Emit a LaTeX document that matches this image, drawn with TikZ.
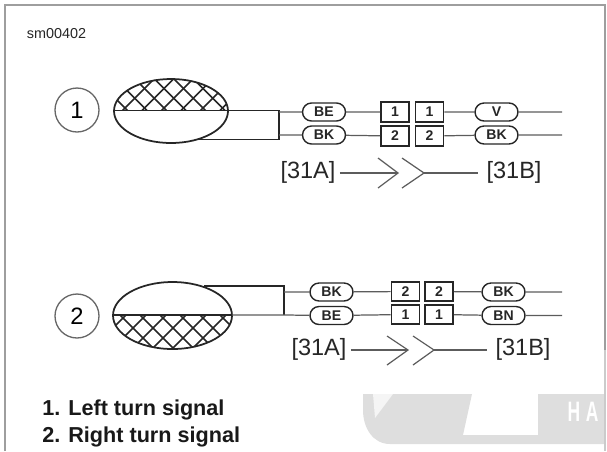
\documentclass[tikz,border=0pt]{standalone}
\usepackage{fontspec}
\setmainfont{Liberation Sans}
\usetikzlibrary{calc}
\usetikzlibrary{shapes.misc}
\definecolor{inkgray}{gray}{0.15}
\definecolor{wiregray}{gray}{0.36}
\definecolor{framegray}{gray}{0.62}
\definecolor{markgray}{gray}{0.87}
\tikzset{%
    lamp/.style={draw=inkgray,line width=1pt},
    hatchline/.style={draw=inkgray,line width=0.85pt},
    callout/.style={circle,draw=inkgray!70,line width=0.75pt,minimum size=0.88cm,inner sep=0pt,font=\fontsize{13.5}{14}\selectfont},
    wirepill/.style={rounded rectangle,draw=inkgray,line width=0.8pt,fill=white,minimum width=0.86cm,minimum height=0.36cm,inner sep=0pt,font=\fontsize{8}{9}\selectfont\bfseries,text=inkgray},
    pinbox/.style={rectangle,draw=inkgray,line width=0.9pt,fill=white,minimum width=0.56cm,minimum height=0.39cm,inner sep=0pt,font=\fontsize{8}{9}\selectfont\bfseries,text=inkgray},
    wire/.style={draw=wiregray,line width=0.7pt},
    harness/.style={draw=inkgray,line width=0.9pt},
    connref/.style={inner sep=0pt,font=\fontsize{13.4}{14}\selectfont,text=inkgray},
    chevron/.style={draw=wiregray,line width=0.7pt},
    legend/.style={anchor=west,inner sep=0pt,font=\fontsize{12.3}{14}\selectfont\bfseries,text=black!90},
}
\begin{document}
\begin{tikzpicture}[x=0.02cm,y=-0.02cm]
        \useasboundingbox (0,0) rectangle (607,451);

        % watermark and frame
        \fill[markgray] (363,394) -- (472,394) -- (463,435) -- (538,435) -- (538,394) -- (605,394) -- (605,444) -- (390,444) .. controls (373,444) and (363,428) .. (363,410) -- cycle;
        \fill[white!70!markgray] (373,394) -- (393,394) -- (375,418) -- cycle;
        \node (wmark) at (583,412) {\color{white}\fontsize{16}{16}\selectfont\bfseries\scalebox{0.62}[1]{H\,\,A}};
        \draw[framegray,line width=1.2pt] (5,451) -- (5,5) -- (605,5) -- (605,350);
        \draw[markgray!80!gray,line width=1.2pt] (605,350) -- (605,451);

        \node (tag) at (56.5,34) {\fontsize{8.2}{9}\selectfont\color{inkgray}sm00402};

        % upper lamp
        \node [callout] (num1) at (77,110) {1};
        \coordinate (lamp1w) at (114,110.5);
        \coordinate (lamp1e) at (228,110.5);
        \begin{scope}
            \clip (lamp1w) arc (180:360:57 and 32) -- cycle;
            \foreach \i in {-2,...,7} {
                \draw[hatchline] (65+19.5*\i,168) -- ++(120,-120);
                \draw[hatchline] (65+19.5*\i,48) -- ++(120,120);
            }
        \end{scope}
        \draw[lamp] (171,111) ellipse [x radius=57,y radius=32];
        \coordinate (split1a) at (279,110.5);
        \coordinate (split1b) at (279,139.5);
        \coordinate (back1) at (197,139.5);
        \draw[harness] (lamp1w) -- (split1a) -- (split1b) -- (back1);

        \node [wirepill] (p1a) at (324,112) {BE};
        \node [wirepill] (p1b) at (324,135) {BK};
        \node [pinbox] (b1a) at (395,112) {1};
        \node [pinbox] (b1b) at (395,136) {2};
        \node [pinbox] (c1a) at (429.5,112) {1};
        \node [pinbox] (c1b) at (429.5,136) {2};
        \node [wirepill] (q1a) at (496.5,112) {V};
        \node [wirepill] (q1b) at (496.5,135) {BK};
        \coordinate (end1a) at (562,112);
        \coordinate (end1b) at (562,135);
        \coordinate (tap1a) at (279,112);
        \coordinate (tap1b) at (279,135);
        \draw[wire] (tap1a) -- (p1a) -- (b1a);
        \draw[wire] (tap1b) -- (p1b) -- (b1b);
        \draw[wire] (c1a) -- (q1a) -- (end1a);
        \draw[wire] (c1b) -- (q1b) -- (end1b);

        \node [connref] (ref1a) at (308,172) {[31A]};
        \node [connref] (ref1b) at (514,172) {[31B]};
        \coordinate (tip1a) at (398,173);
        \coordinate (tip1b) at (424,173);
        \draw[chevron] ($(ref1a.east)+(4,1)$) -- (tip1a);
        \draw[chevron] (378,158) -- (tip1a) -- (378,188);
        \draw[chevron] (402,158) -- (tip1b) -- (402,188);
        \draw[chevron] (tip1b) -- ($(ref1b.west)+(-8,1)$);

        % lower lamp
        \node [callout] (num2) at (77,316) {2};
        \coordinate (lamp2w) at (113,315);
        \coordinate (lamp2e) at (232,315);
        \begin{scope}
            \clip (lamp2w) arc (180:0:59.5 and 33.5) -- cycle;
            \foreach \i in {-2,...,7} {
                \draw[hatchline] (63+20*\i,378) -- ++(120,-120);
                \draw[hatchline] (63+20*\i,258) -- ++(120,120);
            }
        \end{scope}
        \draw[lamp] (172.5,315.5) ellipse [x radius=59.5,y radius=33.5];
        \coordinate (split2a) at (284,286);
        \coordinate (split2b) at (284,315);
        \coordinate (back2) at (204,286);
        \draw[lamp] (lamp2w) -- (lamp2e);
        \draw[harness] (back2) -- (split2a) -- (split2b);

        \node [wirepill] (p2a) at (331.5,292) {BK};
        \node [wirepill] (p2b) at (331.5,315.5) {BE};
        \node [pinbox] (b2a) at (405.5,291.5) {2};
        \node [pinbox] (b2b) at (405.5,314.5) {1};
        \node [pinbox] (c2a) at (439,291.5) {2};
        \node [pinbox] (c2b) at (439,314.5) {1};
        \node [wirepill] (q2a) at (503.5,292) {BK};
        \node [wirepill] (q2b) at (503.5,315.5) {BN};
        \coordinate (end2a) at (562,292);
        \coordinate (end2b) at (562,315.5);
        \coordinate (tap2a) at (284,292);
        \draw[wire] (tap2a) -- (p2a) -- (b2a);
        \draw[wire] (lamp2e) -- (split2b) -- (p2b) -- (b2b);
        \draw[wire] (c2a) -- (q2a) -- (end2a);
        \draw[wire] (c2b) -- (q2b) -- (end2b);

        \node [connref] (ref2a) at (319,349) {[31A]};
        \node [connref] (ref2b) at (523,349) {[31B]};
        \coordinate (tip2a) at (408,350);
        \coordinate (tip2b) at (434,350);
        \draw[chevron] ($(ref2a.east)+(4,1)$) -- (tip2a);
        \draw[chevron] (387,336) -- (tip2a) -- (387,365);
        \draw[chevron] (413,336) -- (tip2b) -- (413,365);
        \draw[chevron] (tip2b) -- ($(ref2b.west)+(-8,1)$);

        \node [legend] (leg1) at (42,410) {1. Left turn signal};
        \node [legend] (leg2) at (42,436.5) {2. Right turn signal};
    \end{tikzpicture}
\end{document}
